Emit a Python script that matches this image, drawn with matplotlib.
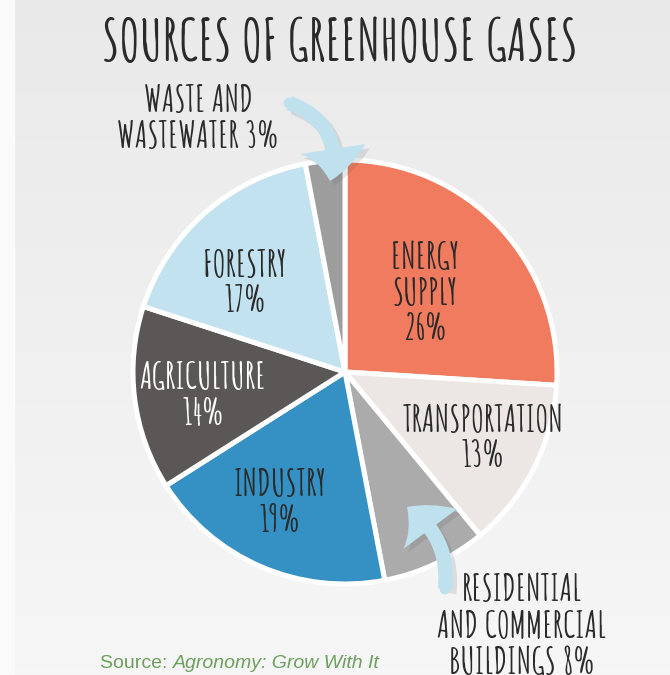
import matplotlib
matplotlib.use("Agg")
import matplotlib.pyplot as plt
import numpy as np
from matplotlib.patches import FancyArrowPatch, Circle
from matplotlib import patheffects as pe

# Greenhouse gas sources, share of total emissions (%)
categories = ["ENERGY\nSUPPLY", "TRANSPORTATION", "RESIDENTIAL\nAND COMMERCIAL\nBUILDINGS",
              "INDUSTRY", "AGRICULTURE", "FORESTRY", "WASTE AND\nWASTEWATER"]
shares = [26, 13, 8, 19, 14, 17, 3]
colors = ["#F07B5E", "#ECE7E4", "#ABABAB", "#3591C3", "#5B5757", "#C1E2EE", "#9D9D9D"]

HAND = ["Amatic SC", "DejaVu Sans"]
INK = "#2A2A2A"

W, H = 670, 675
fig = plt.figure(figsize=(W / 100, H / 100), dpi=100)

# soft grey backdrop
bg = fig.add_axes([0, 0, 1, 1])
grad = np.linspace(0.915, 0.965, 256)[:, None] * np.ones((1, 256))
grad_rgb = np.dstack([grad, grad, grad])
bg.imshow(grad_rgb, extent=(0, W, 0, H), aspect="auto", origin="upper")
bg.axvspan(0, 14, color="#FAFAFA")
bg.set_xlim(0, W)
bg.set_ylim(0, H)
bg.axis("off")

ax = fig.add_axes([0, 0, 1, 1])
ax.set_facecolor("none")

cx, cy, r = 345, H - 372, 212
wedges, _ = ax.pie(shares, colors=colors, startangle=90, counterclock=False,
                   center=(cx, cy), radius=r,
                   wedgeprops=dict(edgecolor="white", linewidth=3.6))
ax.set_xlim(0, W)
ax.set_ylim(0, H)
ax.set_aspect("equal")
ax.axis("off")


def px(x, y):
    return x, H - y


label_style = dict(family=HAND, fontweight="bold", fontsize=26, ha="center",
                   va="center", linespacing=1.25)

inside = {
    0: ((425, 291), INK),
    1: ((483, 436), INK),
    3: ((280, 500), INK),
    4: ((203, 394), "white"),
    5: ((245, 281), INK),
}
for i, ((x, y), c) in inside.items():
    ax.text(*px(x, y), f"{categories[i]}\n{shares[i]}%", color=c, **label_style)

# labels outside the pie
ax.text(*px(198, 116), f"{categories[6]} {shares[6]}%", color=INK, **label_style)
ax.text(*px(522, 624), f"{categories[2]} {shares[2]}%", color=INK, **label_style)

# title
ax.text(*px(340, 40), "SOURCES OF GREENHOUSE GASES", family=HAND, fontweight="bold",
        fontsize=41, ha="center", va="center", color=INK)

# pointer arrows
arrow_col = "#BFE1EE"
shadow = [pe.SimplePatchShadow(offset=(3, -3), alpha=0.15, shadow_rgbFace="#555555"),
          pe.Normal()]
for tail, tip, rad in [((289, 103), (330, 181), -0.45),
                       ((445, 589), (407, 507), 0.3)]:
    a = FancyArrowPatch(px(*tail), px(*tip), connectionstyle=f"arc3,rad={rad}",
                        arrowstyle="simple,head_length=2.3,head_width=4.8,tail_width=1.05",
                        mutation_scale=10, color=arrow_col, lw=0,
                        shrinkA=0, shrinkB=0, zorder=5)
    a.set_path_effects(shadow)
    ax.add_patch(a)
    ax.add_patch(Circle(px(*tail), 5.4, color=arrow_col, lw=0, zorder=5))

# source line
src = ax.text(*px(100, 663), "Source: ", family="Liberation Sans", fontsize=14,
              color="#6E9F5E", ha="left", va="center")
ax.annotate("Agronomy: Grow With It", xy=(1, 0.5), xycoords=src, family="Liberation Sans",
            fontsize=14, fontstyle="italic", color="#6E9F5E", ha="left", va="center")

fig.savefig("out.png", dpi=100)
